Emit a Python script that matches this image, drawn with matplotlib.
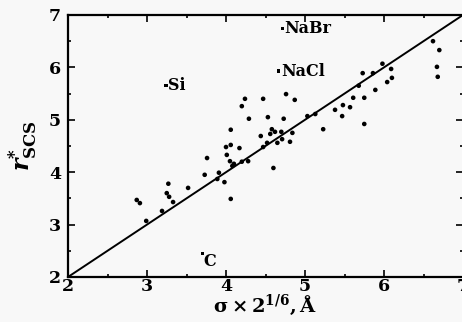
import matplotlib
matplotlib.use("Agg")
import matplotlib.pyplot as plt
from matplotlib.ticker import MultipleLocator

# sigma * 2^(1/6) (A) vs r*_SCS
sigma_x = [
    2.87, 2.91, 2.99, 3.19, 3.27, 3.25, 3.28, 3.33, 3.52, 3.73,
    3.91, 3.89, 3.98, 4.06, 3.76, 4.01, 4.05, 4.08, 4.10, 4.20,
    4.28, 4.00, 4.06, 4.17, 4.06, 4.29, 4.20, 4.24, 4.47, 4.44,
    4.53, 4.73, 4.76, 4.87, 5.03, 5.13, 5.38, 5.23, 4.58, 4.62,
    4.70, 4.56, 4.84, 4.71, 4.81, 4.65, 4.52, 4.47, 4.60, 5.47,
    5.48, 5.57, 5.61, 5.75, 5.75, 5.68, 5.89, 5.73, 5.86, 5.98,
    6.09, 6.10, 6.04, 6.62, 6.70, 6.67, 6.68,
]
r_scs = [
    3.47, 3.41, 3.07, 3.26, 3.78, 3.60, 3.53, 3.43, 3.70, 3.95,
    3.99, 3.87, 3.81, 3.49, 4.27, 4.33, 4.21, 4.12, 4.16, 4.20,
    4.21, 4.48, 4.52, 4.46, 4.81, 5.02, 5.26, 5.40, 5.40, 4.69,
    5.05, 5.02, 5.49, 5.38, 5.07, 5.11, 5.19, 4.82, 4.82, 4.77,
    4.77, 4.73, 4.75, 4.63, 4.58, 4.56, 4.56, 4.48, 4.08, 5.07,
    5.28, 5.24, 5.42, 5.42, 4.92, 5.65, 5.57, 5.89, 5.89, 6.07,
    5.97, 5.80, 5.72, 6.50, 6.33, 6.01, 5.82,
]

# labelled outliers
names = ["Si", "NaBr", "NaCl", "C"]
names_x = [3.24, 4.71, 4.67, 3.70]
names_y = [5.66, 6.75, 5.93, 2.44]

diag = [2, 7]

plt.rcParams["font.family"] = ["DejaVu Serif"]
plt.rcParams["mathtext.fontset"] = "dejavuserif"

fig = plt.figure(figsize=(4.62, 3.22), dpi=100, facecolor="#f8f8f8")
ax = fig.add_axes([0.1472, 0.1398, 0.855, 0.8137])
ax.set_facecolor("#f8f8f8")

ax.plot(diag, diag, color="black", lw=1.4, solid_capstyle="butt")
ax.scatter(sigma_x, r_scs, s=11, color="black", edgecolors="none", zorder=3)
ax.scatter(names_x, names_y, s=5, marker="s", color="black", edgecolors="none", zorder=3)

for name, x, y in zip(names, names_x, names_y):
    if name == "C":
        ax.annotate(name, (x, y), xytext=(1, 1), textcoords="offset points",
                    ha="left", va="top", fontsize=11.5, fontweight="bold")
    else:
        ax.annotate(name, (x, y), xytext=(1.5, 0), textcoords="offset points",
                    ha="left", va="center", fontsize=11.5, fontweight="bold")

ax.set_xlim(2, 7)
ax.set_ylim(2, 7)
ax.xaxis.set_major_locator(MultipleLocator(1))
ax.yaxis.set_major_locator(MultipleLocator(1))
ax.xaxis.set_minor_locator(MultipleLocator(0.5))
ax.yaxis.set_minor_locator(MultipleLocator(0.5))
ax.tick_params(which="both", direction="in", top=True, right=True, width=1.2)
ax.tick_params(which="major", length=5, labelsize=12.5)
ax.tick_params(which="minor", length=2.5)
ax.tick_params(axis="x", pad=1)
ax.tick_params(axis="y", pad=5)
for lab in ax.get_xticklabels() + ax.get_yticklabels():
    lab.set_fontweight("bold")

for side in ["left", "bottom", "top", "right"]:
    ax.spines[side].set_linewidth(1.6)

ax.set_xlabel(r"$\mathbf{\sigma \times 2^{1/6}, \AA}$", fontsize=14, labelpad=-2)
ax.set_ylabel(r"$\boldsymbol{r}^{\mathbf{*}}_{\mathbf{SCS}}$", fontsize=17, labelpad=7)

fig.savefig("out.png", dpi=100, facecolor=fig.get_facecolor())
